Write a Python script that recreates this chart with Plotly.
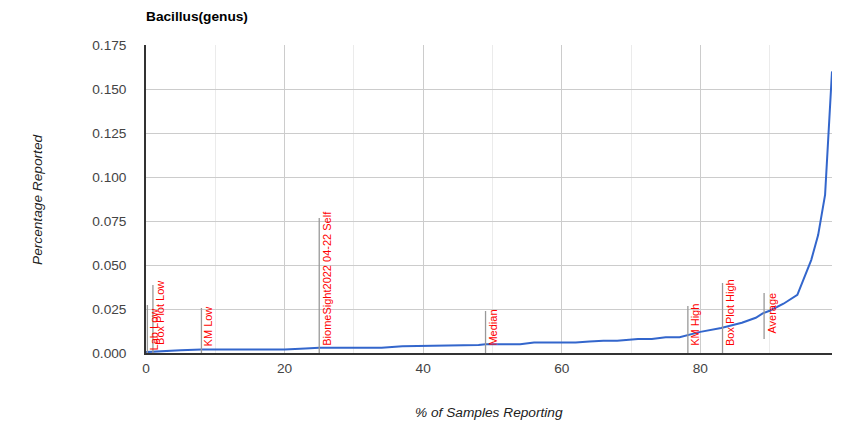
import plotly.graph_objects as go

# Curve data
pct_samples = [0, 2, 5, 8, 12, 16, 20, 23, 25, 28, 31, 34, 37, 40, 43, 46, 48, 49, 51, 54,
               56, 59, 62, 64, 66, 68, 71, 73, 75, 77, 78, 80, 83, 86, 88, 89, 90, 92, 94,
               95, 96, 97, 98, 99]
pct_reported = [0.0005, 0.001, 0.0015, 0.002, 0.002, 0.002, 0.002, 0.0025, 0.003, 0.003,
                0.003, 0.003, 0.0038, 0.004, 0.004, 0.004, 0.0045, 0.005, 0.005, 0.005,
                0.006, 0.006, 0.006, 0.0065, 0.007, 0.007, 0.008, 0.008, 0.009, 0.009,
                0.010, 0.012, 0.0142, 0.0172, 0.020, 0.0225, 0.024, 0.028, 0.033,
                0.0434, 0.0528, 0.067, 0.0898, 0.16]

# Marker annotations
ann_labels = ["Lab Low", "Box Plot Low", "KM Low", "BiomeSight2022 04-22 Self", "Median",
              "KM High", "Box Plot High", "Average"]
ann_x = [0.2, 1, 8, 25, 49, 78.2, 83.2, 89.2]

# styles for annotation lines (pixel extents above axis) and text offsets
ann_line_px = [(0, 48), (0, 68), (0, 45), (0, 135), (0, 42), (0, 47), (0, 70), (14, 60)]
ann_text_bottom_px = [1, 6, 5, 5, 5, 5, 5, 17]

y_ticks = [0, 0.025, 0.05, 0.075, 0.1, 0.125, 0.15, 0.175]
x_ticks = [0, 20, 40, 60, 80]

FONT = "Arial, Liberation Sans, sans-serif"
W, H = 841, 430

fig = go.Figure()
fig.add_trace(go.Scatter(x=pct_samples, y=pct_reported, mode="lines",
                         line=dict(color="#3366cc", width=2), hoverinfo="x+y",
                         showlegend=False))

shapes = []
annotations = []
for lab, xv, (p0, p1), tb in zip(ann_labels, ann_x, ann_line_px, ann_text_bottom_px):
    shapes.append(dict(type="line", xref="x", yref="y", ysizemode="pixel", yanchor=0,
                       x0=xv, x1=xv, y0=p0, y1=p1,
                       line=dict(color="#999999", width=1.3)))
    annotations.append(dict(x=xv, y=0, xref="x", yref="y", text=lab, textangle=-90,
                            showarrow=False, xanchor="center", yanchor="bottom",
                            xshift=7, yshift=tb,
                            font=dict(family=FONT, size=11, color="#ff0000")))

annotations.append(dict(x=0.5, y=-0.1916, xref="paper", yref="paper",
                        text="<i>% of Samples Reporting</i>", showarrow=False,
                        xanchor="center", yanchor="middle",
                        font=dict(family=FONT, size=13.7, color="#222222")))
annotations.append(dict(x=-0.1589, y=0.5, xref="paper", yref="paper",
                        text="<i>Percentage Reported</i>", showarrow=False, textangle=-90,
                        xanchor="center", yanchor="middle",
                        font=dict(family=FONT, size=13.7, color="#222222")))

fig.update_layout(
    width=W, height=H,
    margin=dict(l=138, r=17, t=37, b=85),
    paper_bgcolor="white", plot_bgcolor="white",
    title=dict(text="<b>Bacillus(genus)</b>", x=138 / W, xanchor="left", xref="container",
               y=1 - 8 / H, yanchor="middle", yref="container",
               font=dict(family=FONT, size=13.7, color="#000000")),
    font=dict(family=FONT, size=13.7, color="#444444"),
    shapes=shapes,
    annotations=annotations,
    xaxis=dict(range=[0, 99], tickvals=x_ticks, ticktext=[str(v) for v in x_ticks],
               showgrid=True, gridcolor="#cccccc", gridwidth=1,
               minor=dict(dtick=10, showgrid=True, gridcolor="#ebebeb", gridwidth=1),
               zeroline=False, showline=True, linecolor="#333333", linewidth=1.5,
               ticks="", ticklabelstandoff=2,
               tickfont=dict(family=FONT, size=13.7, color="#444444")),
    yaxis=dict(range=[0, 0.175], tickvals=y_ticks, tickformat=".3f",
               showgrid=True, gridcolor="#cccccc", gridwidth=1,
               zeroline=False, showline=True, linecolor="#333333", linewidth=1.5,
               ticks="", ticklabelstandoff=15,
               tickfont=dict(family=FONT, size=13.7, color="#444444")),
)

fig.write_html("out.html")
